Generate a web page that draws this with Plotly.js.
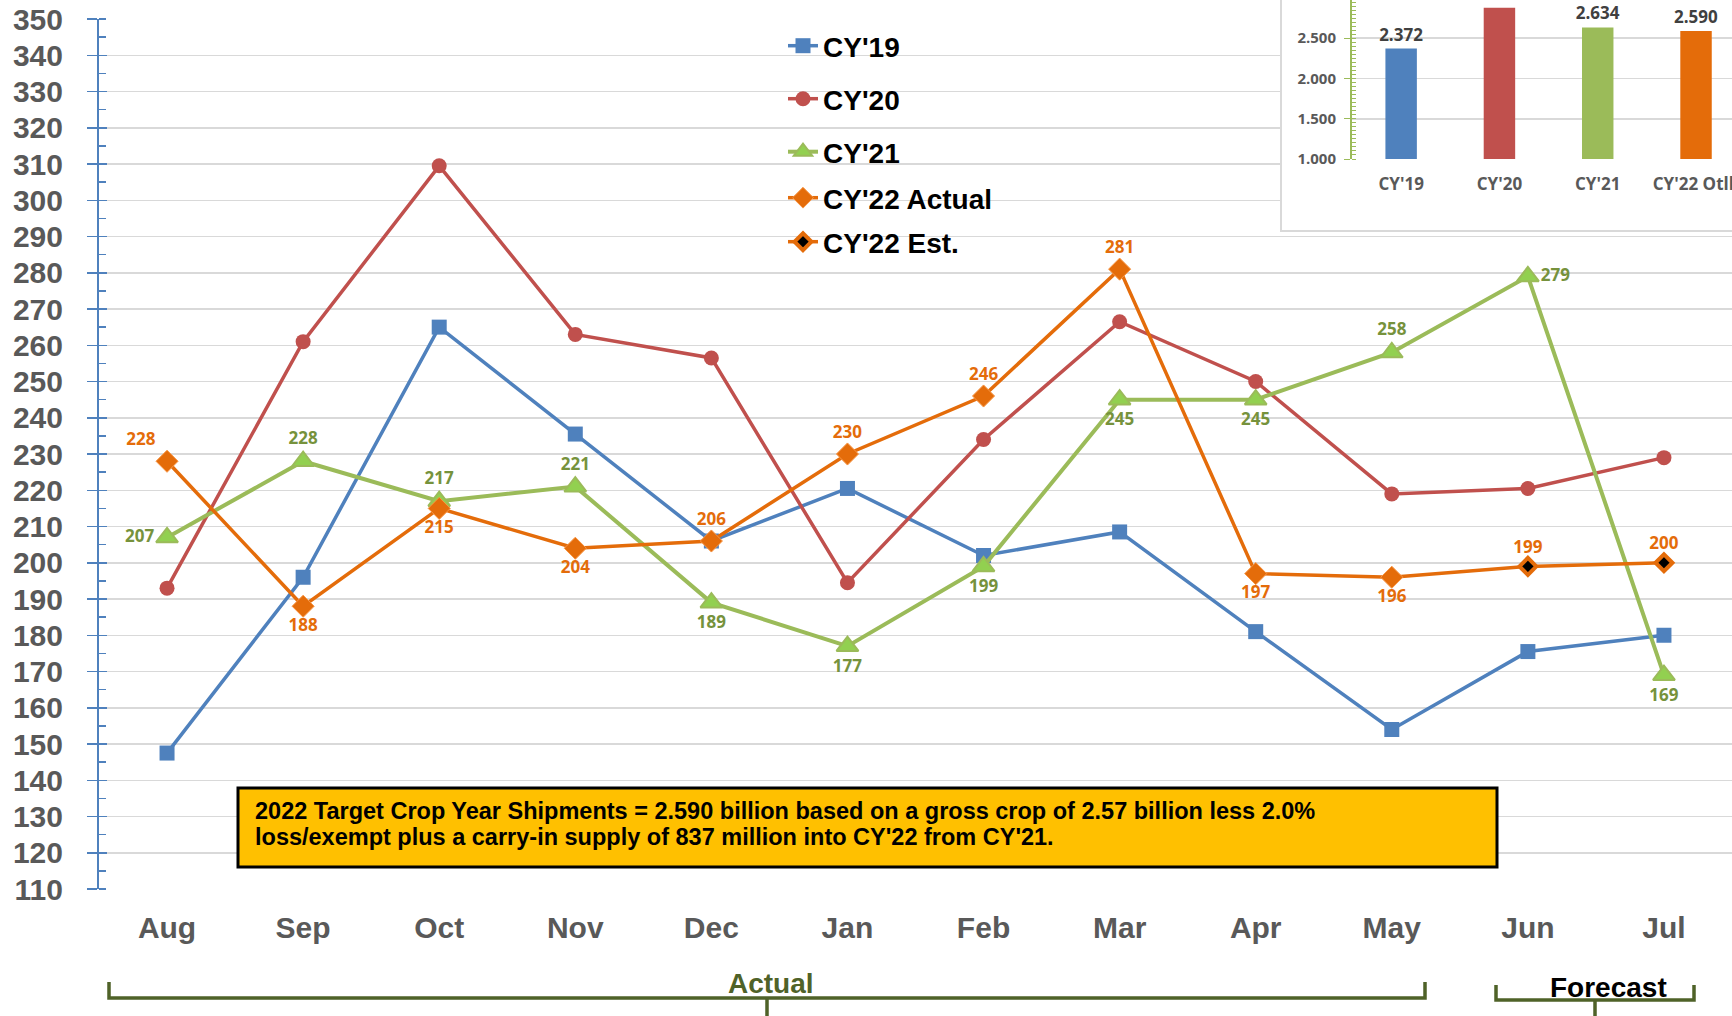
<!DOCTYPE html>
<html><head><meta charset="utf-8">
<script src="https://cdn.plot.ly/plotly-3.0.1.min.js"></script>
<style>html,body{margin:0;padding:0;background:#fff;overflow:hidden}#chart{width:1732px;height:1016px;}</style>
</head><body><div id="chart"></div>
<script>
// ---------- data ----------
const months = ['Aug','Sep','Oct','Nov','Dec','Jan','Feb','Mar','Apr','May','Jun','Jul'];
const cy19 = [147.5,196,265,235.5,206,220.5,202,208.5,181,154,175.5,180];
const cy20 = [193,261,309.5,263,256.5,194.5,234,266.5,250,219,220.5,229];
const cy21 = [207,228,217,221,189,177,199,245,245,258,279,169];
const actualMonths = ['Aug','Sep','Oct','Nov','Dec','Jan','Feb','Mar','Apr','May'];
const cy22Actual = [228,188,215,204,206,230,246,281,197,196];
const estMonths = ['Jun','Jul'];
const cy22Est = [199,200];
const yearCats = ["CY'19","CY'20","CY'21","CY'22 Otlk"];
const yearTotals = [2.372,2.88,2.634,2.590];
const seriesNames = ["CY'19","CY'20","CY'21","CY'22 Actual","CY'22 Est."];
const noteLines = [
  "2022 Target Crop Year Shipments = 2.590 billion based on a gross crop of 2.57 billion less 2.0%",
  "loss/exempt plus a carry-in supply of 837 million into CY'22 from CY'21."
];

// ---------- styling ----------
const W = 1732, H = 1016;
const px = x => x / W, py = y => 1 - y / H;
const BLUE='#4f81bd', RED='#c0504d', GREEN='#9bbb59', ORANGE='#e46c0a', OLIVE='#4f6228';
const yearColors = [BLUE, RED, GREEN, ORANGE];
const ARIAL = 'Liberation Sans, Arial, sans-serif';
const CAL = 'Open Sans, Lato, sans-serif';

const greenPos = ['middle left','top center','top center','top center','bottom center','bottom center','bottom center','bottom center','bottom center','top center','middle right','bottom center'];
const orangePos = ['top left','bottom center','bottom center','bottom center','top center','top center','top center','top center','bottom center','bottom center'];
const estPos = ['top center','top center'];
const lblFont = c => ({family: CAL, size: 17, color: c, weight: 'bold'});

const traces = [
  {x: months, y: cy19, name: seriesNames[0], mode: 'lines+markers', legend: 'legend',
   line: {color: BLUE, width: 3.5}, marker: {symbol: 'square', size: 15, color: BLUE}},
  {x: months, y: cy20, name: seriesNames[1], mode: 'lines+markers', legend: 'legend2',
   line: {color: RED, width: 3.5}, marker: {symbol: 'circle', size: 15, color: RED}},
  {x: months, y: cy21, name: seriesNames[2], mode: 'lines+markers+text', legend: 'legend3',
   text: cy21.map(String), textposition: greenPos, textfont: lblFont('#76923c'), cliponaxis: false,
   line: {color: GREEN, width: 4}, marker: {symbol: 'triangle-up', size: 19, color: '#92d050', line: {color: GREEN, width: 2}}},
  {x: [actualMonths[actualMonths.length-1], estMonths[0]], y: [cy22Actual[cy22Actual.length-1], cy22Est[0]],
   mode: 'lines', showlegend: false, line: {color: ORANGE, width: 3.5}, hoverinfo: 'skip'},
  {x: actualMonths, y: cy22Actual, name: seriesNames[3], mode: 'lines+markers+text', legend: 'legend4',
   text: cy22Actual.map(String), textposition: orangePos, textfont: lblFont(ORANGE), cliponaxis: false,
   line: {color: ORANGE, width: 3.5}, marker: {symbol: 'diamond', size: 17, color: ORANGE, line: {color: '#f79646', width: 1}}},
  {x: estMonths, y: cy22Est, name: seriesNames[4], mode: 'lines+markers+text', legend: 'legend5',
   text: cy22Est.map(String), textposition: estPos, textfont: lblFont(ORANGE), cliponaxis: false,
   line: {color: ORANGE, width: 3.5}, marker: {symbol: 'diamond', size: 13, color: '#000', line: {color: ORANGE, width: 4}}},
  {x: [], y: [], yaxis: 'y4', showlegend: false, hoverinfo: 'skip'},
  {x: [], y: [], xaxis: 'x2', yaxis: 'y2', showlegend: false, hoverinfo: 'skip'},
  {type: 'bar', x: yearCats, y: yearTotals, xaxis: 'x3', yaxis: 'y3', showlegend: false,
   marker: {color: yearColors}, width: 0.32, text: yearTotals.map(v => v.toFixed(3)),
   textposition: 'outside', constraintext: 'none', cliponaxis: true,
   textfont: {family: CAL, size: 17, color: '#404040', weight: 'bold'}}
];

const legendBase = y => ({x: px(783), xanchor: 'left', y: py(y), yanchor: 'middle',
  font: {family: ARIAL, size: 28, color: '#000', weight: 'bold'}, bgcolor: 'rgba(0,0,0,0)', borderwidth: 0});

const bracket = (x1, x2, xm, yTop, yBot, yEnd) =>
  `M${px(x1)},${py(yTop)} L${px(x1)},${py(yBot)} L${px(x2)},${py(yBot)} L${px(x2)},${py(yTop)} M${px(xm)},${py(yBot)} L${px(xm)},${py(yEnd)}`;

const noteFont = {family: ARIAL, size: 23.5, color: '#000', weight: 'bold'};

const layout = {
  width: W, height: H, margin: {l: 0, r: 0, t: 0, b: 0},
  paper_bgcolor: '#fff', plot_bgcolor: '#fff', hovermode: false,
  xaxis: {domain: [px(99), 1], anchor: 'y', type: 'category', range: [-0.5, 11.5], showgrid: false,
    zeroline: false, showline: false, ticks: '', tickfont: {family: ARIAL, size: 30, color: '#595959', weight: 'bold'},
    ticklabelstandoff: 18, automargin: false},
  yaxis: {domain: [py(889), py(19)], anchor: 'x', range: [110, 350], tick0: 110, dtick: 10,
    showgrid: true, gridcolor: '#d9d9d9', gridwidth: 1.5, zeroline: false,
    showline: true, linecolor: BLUE, linewidth: 2, ticks: 'outside', ticklen: 10, tickcolor: BLUE, tickwidth: 1.5,
    minor: {ticks: 'inside', dtick: 5, tick0: 110, ticklen: 7, tickcolor: BLUE, tickwidth: 1.5, showgrid: false},
    tickfont: {family: ARIAL, size: 30, color: '#595959', weight: 'bold'}, ticklabelstandoff: 18, automargin: false},
  yaxis4: {overlaying: 'y', anchor: 'x', side: 'left', range: [110, 350], tick0: 110, dtick: 10,
    ticks: 'inside', ticklen: 8, tickcolor: BLUE, tickwidth: 1.5, showticklabels: false,
    showgrid: false, showline: false, zeroline: false},
  xaxis2: {domain: [px(1282), 1], anchor: 'y2', range: [0, 1], showline: true, mirror: true, linecolor: '#d9d9d9', linewidth: 2,
    showticklabels: false, showgrid: false, zeroline: false, ticks: ''},
  yaxis2: {domain: [py(230), 1], anchor: 'x2', range: [0, 1], showline: true, mirror: true, linecolor: '#d9d9d9', linewidth: 2,
    showticklabels: false, showgrid: false, zeroline: false, ticks: ''},
  xaxis3: {domain: [px(1352), 1], anchor: 'y3', type: 'category', range: [-0.5, 3.366], showgrid: false, showline: false,
    zeroline: false, ticks: '', tickfont: {family: CAL, size: 17, color: '#595959', weight: 'bold'}, ticklabelstandoff: 13},
  yaxis3: {domain: [py(159), 1], anchor: 'x3', range: [1, 2.975], tick0: 1, dtick: 0.5, tickformat: '.3f',
    showgrid: true, gridcolor: '#d9d9d9', gridwidth: 1.5, zeroline: false,
    showline: true, linecolor: GREEN, linewidth: 2, ticks: 'outside', ticklen: 6, tickcolor: GREEN,
    minor: {ticks: 'inside', dtick: 0.05, ticklen: 4, tickcolor: GREEN, showgrid: false},
    tickfont: {family: CAL, size: 15, color: '#595959', weight: 'bold'}, ticklabelstandoff: 5},
  legend: legendBase(46), legend2: legendBase(99), legend3: legendBase(152), legend4: legendBase(198), legend5: legendBase(242),
  shapes: [
    {type: 'rect', xref: 'paper', yref: 'paper', x0: px(238), x1: px(1497), y0: py(867), y1: py(788),
     fillcolor: '#ffc000', line: {color: '#000', width: 3}, layer: 'above'},
    {type: 'path', xref: 'paper', yref: 'paper', path: bracket(109, 1425, 767, 982, 998, 1016), line: {color: OLIVE, width: 3.5}},
    {type: 'path', xref: 'paper', yref: 'paper', path: bracket(1496, 1694, 1595, 985, 1000, 1016), line: {color: OLIVE, width: 3.5}}
  ],
  annotations: [
    {xref: 'paper', yref: 'paper', x: px(253), y: py(811), xanchor: 'left', yanchor: 'middle', align: 'left',
     showarrow: false, text: noteLines[0], font: noteFont},
    {xref: 'paper', yref: 'paper', x: px(253), y: py(837), xanchor: 'left', yanchor: 'middle', align: 'left',
     showarrow: false, text: noteLines[1], font: noteFont},
    {xref: 'paper', yref: 'paper', x: px(771), y: py(983), xanchor: 'center', yanchor: 'middle', showarrow: false,
     text: 'Actual', font: {family: ARIAL, size: 28, color: OLIVE, weight: 'bold'}},
    {xref: 'paper', yref: 'paper', x: px(1608), y: py(987), xanchor: 'center', yanchor: 'middle', showarrow: false,
     text: 'Forecast', font: {family: ARIAL, size: 28, color: '#000', weight: 'bold'}}
  ]
};

Plotly.newPlot('chart', traces, layout, {displayModeBar: false, staticPlot: true});
</script></body></html>
